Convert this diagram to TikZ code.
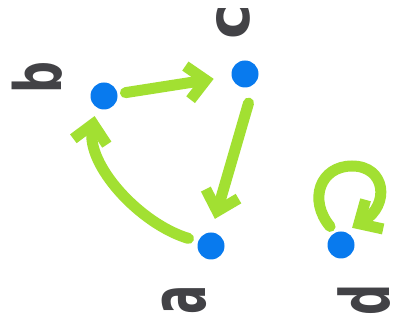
\documentclass[tikz,border=0pt]{standalone}
\usepackage{graphicx}
\usepackage{fontspec}
\newfontfamily\labfont{DejaVu Sans}
\usetikzlibrary{arrows.meta}
\definecolor{lime}{RGB}{162,224,50}
\definecolor{dotblue}{RGB}{8,122,238}
\definecolor{ink}{RGB}{66,66,70}
\begin{document}
\begin{tikzpicture}[x=1pt,y=1pt,
  dot/.style={circle,fill=dotblue,minimum size=27pt,inner sep=0pt},
  lab/.style={text=ink,font=\labfont\bfseries\fontsize{62}{62}\selectfont,rotate=90,inner sep=0pt},
  edge/.style={draw=lime,line width=11pt,line cap=round,line join=round,-{Straight Barb[length=18pt,width=34pt]}},
]
\fill[white] (0,0) rectangle (402,329);
\useasboundingbox (0,0) rectangle (402,329);
\node[dot] (b) at (104,233) {};
\node[dot] (c) at (245,255) {};
\node[dot] (a) at (211,83) {};
\node[dot] (d) at (341,84) {};
\node[lab] (lb) at (37,251) {\scalebox{0.72}[1.05]{b}};
\node[lab] (lc) at (233,307) {\scalebox{0.95}[0.95]{c}};
\node[lab] (la) at (184,29) {\scalebox{0.7}[1.25]{a}};
\node[lab] (ld) at (364,29) {\scalebox{0.7}[1.1]{d}};
\draw[edge,shorten <=8pt,shorten >=18pt] (b) -- (c);
\draw[edge,shorten <=16pt,shorten >=14pt] ([xshift=8pt]c.south) -- (a.north);
\draw[edge,shorten <=10pt,shorten >=9pt] (a.160) .. controls (140,105) and (86,164) .. (b.235);
\draw[edge,shorten <=8pt,shorten >=8pt] (d.115) .. controls (308,129) and (320,163) .. (352,163) .. controls (386,163) and (390,124) .. (d.72);
\end{tikzpicture}
\end{document}
